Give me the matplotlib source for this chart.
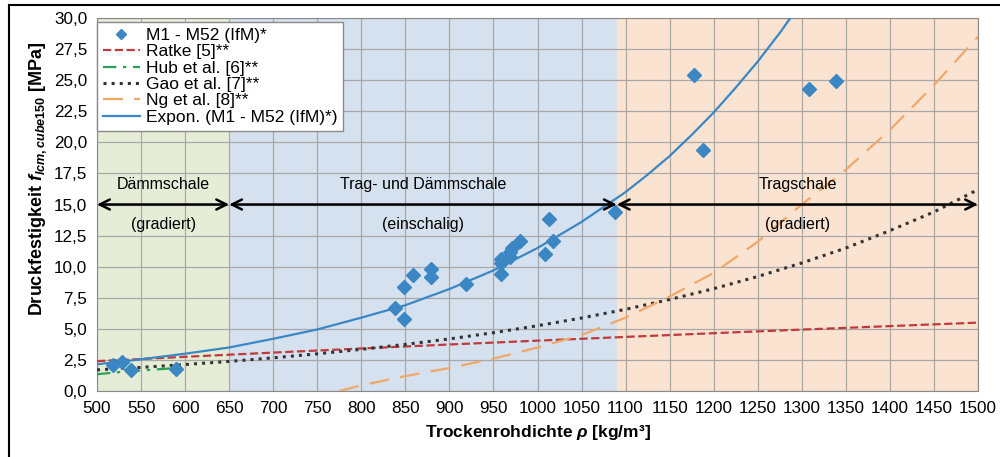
import numpy as np
import matplotlib.pyplot as plt
from matplotlib.lines import Line2D
from matplotlib.ticker import FuncFormatter

plt.rcParams['font.family'] = ['Liberation Sans', 'DejaVu Sans']
plt.rcParams['mathtext.fontset'] = 'custom'
plt.rcParams['mathtext.rm'] = 'Liberation Sans:bold'
plt.rcParams['mathtext.it'] = 'Liberation Sans:italic:bold'
plt.rcParams['mathtext.bf'] = 'Liberation Sans:bold'

# Messwerte M1 - M52 (IfM)
dichte = [518, 528, 539, 590, 838, 848, 848, 859, 879, 879, 919, 959, 959, 959,
          969, 969, 971, 980, 1008, 1013, 1018, 1088, 1178, 1188, 1308, 1339]
festigkeit = [2.1, 2.3, 1.7, 1.8, 6.7, 8.4, 5.8, 9.3, 9.8, 9.2, 8.6, 10.6, 10.3, 9.4,
              11.2, 10.8, 11.5, 12.1, 11.0, 13.8, 12.1, 14.4, 25.4, 19.4, 24.3, 24.9]

# Expon. Trendlinie
trend_x = [500, 550, 600, 650, 700, 750, 800, 850, 900, 950, 1000, 1050, 1100,
           1125, 1150, 1175, 1200, 1225, 1250, 1275, 1287]
trend_y = [2.15, 2.55, 3.0, 3.5, 4.2, 4.95, 5.9, 6.9, 8.2, 9.7, 11.5, 13.6, 16.0,
           17.4, 18.9, 20.6, 22.4, 24.4, 26.5, 28.8, 30.0]

# Literaturmodelle
ratke_x = [500, 600, 700, 800, 900, 1000, 1100, 1200, 1300, 1400, 1500]
ratke_y = [2.40, 2.75, 3.09, 3.42, 3.74, 4.05, 4.35, 4.65, 4.94, 5.22, 5.50]

hub_x = [500, 530, 560, 600]
hub_y = [1.35, 1.55, 1.7, 1.9]

gao_x = [500, 550, 600, 650, 700, 750, 800, 850, 900, 950, 1000, 1050, 1100,
         1150, 1200, 1250, 1300, 1350, 1400, 1450, 1500]
gao_y = [1.70, 1.90, 2.13, 2.38, 2.67, 2.99, 3.35, 3.75, 4.19, 4.69, 5.25, 5.87,
         6.57, 7.36, 8.23, 9.21, 10.3, 11.5, 12.9, 14.4, 16.2]

ng_x = [775, 800, 850, 900, 950, 1000, 1050, 1100, 1150, 1200, 1250, 1300, 1350,
        1400, 1450, 1500]
ng_y = [0.0, 0.45, 1.2, 1.85, 2.6, 3.5, 4.5, 5.9, 7.6, 9.5, 12.0, 15.0, 17.8,
        21.0, 24.6, 28.5]

# Bereiche
bereiche = [(500, 650, '#e6edd6', 'Dämmschale', '(gradiert)'),
            (650, 1090, '#d6e1ef', 'Trag- und Dämmschale', '(einschalig)'),
            (1090, 1500, '#fbe3d2', 'Tragschale', '(gradiert)')]

fig = plt.figure(figsize=(10, 4.57), dpi=100)
ax = fig.add_axes([0.097, 0.1444, 0.881, 0.8162])

for x0, x1, col, t1, t2 in bereiche:
    ax.axvspan(x0, x1, color=col, zorder=0, lw=0)
    ax.annotate('', xy=(x0, 15), xytext=(x1, 15),
                arrowprops=dict(arrowstyle='<->', color='black', lw=1.8,
                                mutation_scale=18, shrinkA=0, shrinkB=0), zorder=5)
    ax.text((x0 + x1) / 2, 16.6, t1, ha='center', va='center', fontsize=11.5, zorder=6)
    ax.text((x0 + x1) / 2, 13.4, t2, ha='center', va='center', fontsize=11.5, zorder=6)

ax.plot(dichte, festigkeit, 'D', color='#3a87c4', ms=7, label='M1 - M52 (IfM)*', zorder=4)
ax.plot(ratke_x, ratke_y, '--', color='#c0393b', lw=1.6, label='Ratke [5]**', zorder=3)
ax.plot(hub_x, hub_y, color='#2ca05a', lw=1.6, dashes=[6, 3, 1.5, 3],
        label='Hub et al. [6]**', zorder=3)
ax.plot(gao_x, gao_y, ':', color='#333333', lw=2.2, label='Gao et al. [7]**', zorder=3)
ax.plot(ng_x, ng_y, color='#f0a868', lw=1.6, dashes=[9, 5], label='Ng et al. [8]**', zorder=3)
ax.plot(trend_x, trend_y, color='#3a87c4', lw=1.6, label='Expon. (M1 - M52 (IfM)*)', zorder=3)

ax.set_xlim(500, 1500)
ax.set_ylim(0, 30)
ax.set_xticks(np.arange(500, 1501, 50))
ax.set_yticks(np.arange(0, 30.01, 2.5))
ax.yaxis.set_major_formatter(FuncFormatter(lambda v, p: f'{v:.1f}'.replace('.', ',')))
ax.tick_params(labelsize=12.3, length=0, pad=7)
ax.grid(True, color='#a8a8a8', lw=0.9)
for s in ax.spines.values():
    s.set_color('#8a8a8a')

ax.set_xlabel(r'Trockenrohdichte $\mathit{\rho}$ [kg/m³]', fontsize=12.5, fontweight='bold', labelpad=5)
ax.set_ylabel(r'Druckfestigkeit $\mathit{f}_{\mathit{lcm,cube150}}$ [MPa]', fontsize=13,
              fontweight='bold')
ax.yaxis.set_label_coords(-0.054, 0.57)

leg = ax.legend(loc='upper left', bbox_to_anchor=(0.0, 0.99), fontsize=12.5, frameon=True,
                fancybox=False, borderaxespad=0, handlelength=2.1, handletextpad=0.35,
                labelspacing=0.07, borderpad=0.35, markerscale=0.8)
leg.get_frame().set_edgecolor('#8a8a8a')
leg.get_frame().set_facecolor('white')
leg.get_frame().set_alpha(1)

fig.add_artist(Line2D([0.009, 1.0], [1 - 5 / 457, 1 - 5 / 457], color='black', lw=1.5))
fig.add_artist(Line2D([0.009, 0.009], [0, 1 - 5 / 457], color='black', lw=1.5))

fig.savefig('out.png', dpi=100)
